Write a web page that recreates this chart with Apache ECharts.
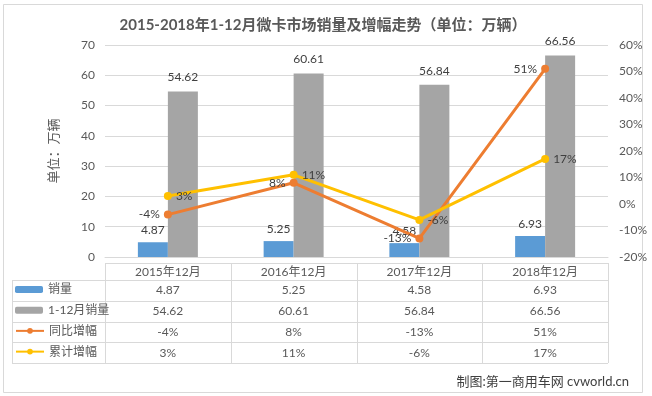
<!DOCTYPE html>
<html>
<head>
<meta charset="utf-8">
<script src="https://cdn.jsdelivr.net/npm/echarts@6/dist/echarts.min.js"></script>
<style>
  html, body { margin: 0; padding: 0; background: #fff; }
  #container { width: 652px; height: 396px; }
</style>
</head>
<body>
<div id="container"></div>
<script>
// data
var categories = ['2015年12月', '2016年12月', '2017年12月', '2018年12月'];
var monthSales = [4.87, 5.25, 4.58, 6.93];        // 销量
var ytdSales = [54.62, 60.61, 56.84, 66.56];      // 1-12月销量
var yoyGrowth = [-4, 8, -13, 51];                 // 同比增幅 (%)
var ytdGrowth = [3, 11, -6, 17];                  // 累计增幅 (%)
var seriesNames = ['销量', '1-12月销量', '同比增幅', '累计增幅'];

var FONT = 'Lato, "Noto Sans CJK SC", sans-serif';
var TXT = '#595959';
var LINE = '#D9D9D9';

// layout of the plot + data table
var gridLeft = 105, gridRight = 608, gridTop = 45, axisY = 257;
var headTop = 263, headBottom = 280, tableBottom = 363, tableLeft = 12;
var rowH = (tableBottom - headBottom) / 4;

var chart = echarts.init(document.getElementById('container'));

function rowCenter(i) { return headBottom + rowH * (i + 0.5); }

var legends = seriesNames.map(function (n, i) {
    return {
        data: [n],
        left: 15,
        top: rowCenter(i) - 7,
        padding: 0,
        itemWidth: 28,
        itemHeight: 7,
        itemGap: 4,
        selectedMode: false,
        textStyle: { color: TXT, fontSize: 12, fontFamily: FONT }
    };
});

chart.setOption({
    backgroundColor: '#fff',
    animation: false,
    title: {
        text: '2015-2018年1-12月微卡市场销量及增幅走势（单位：万辆）',
        left: 318,
        textAlign: 'center',
        top: 13,
        textStyle: { color: TXT, fontSize: 15, fontWeight: 'bold', fontFamily: FONT }
    },
    legend: legends,
    grid: { left: gridLeft, right: 652 - gridRight, top: gridTop, bottom: 396 - axisY },
    xAxis: {
        type: 'category',
        data: categories,
        axisLine: { lineStyle: { color: LINE } },
        axisTick: { show: false },
        axisLabel: { color: TXT, fontSize: 12, fontFamily: FONT, margin: 9 }
    },
    yAxis: [{
        type: 'value',
        min: 0, max: 70, interval: 10,
        name: '单位：万辆',
        nameLocation: 'middle',
        nameRotate: 90,
        nameGap: 45,
        nameTextStyle: { color: TXT, fontSize: 13, fontFamily: FONT },
        axisLabel: { color: TXT, fontSize: 12, fontFamily: FONT, margin: 10 },
        splitLine: { lineStyle: { color: LINE } }
    }, {
        type: 'value',
        min: -20, max: 60, interval: 10,
        axisLabel: { color: TXT, fontSize: 12, fontFamily: FONT, margin: 11, formatter: '{value}%' },
        splitLine: { show: false }
    }],
    series: [{
        name: seriesNames[0],
        type: 'bar',
        data: monthSales,
        barWidth: 30,
        barGap: '0%',
        itemStyle: { color: '#5B9BD5' },
        label: { show: true, position: 'top', color: '#404040', fontSize: 12, fontFamily: FONT, distance: 6 }
    }, {
        name: seriesNames[1],
        type: 'bar',
        data: ytdSales,
        barWidth: 30,
        barGap: '0%',
        itemStyle: { color: '#A5A5A5' },
        label: { show: true, position: 'top', color: '#404040', fontSize: 12, fontFamily: FONT, distance: 8 }
    }, {
        name: seriesNames[2],
        type: 'line',
        yAxisIndex: 1,
        data: yoyGrowth,
        symbol: 'circle',
        symbolSize: 8,
        lineStyle: { width: 3, color: '#ED7D31' },
        itemStyle: { color: '#ED7D31' },
        label: { show: true, position: 'left', distance: 4, color: '#404040', fontSize: 12, fontFamily: FONT, formatter: '{c}%' }
    }, {
        name: seriesNames[3],
        type: 'line',
        yAxisIndex: 1,
        data: ytdGrowth,
        symbol: 'circle',
        symbolSize: 8,
        lineStyle: { width: 3, color: '#FFC000' },
        itemStyle: { color: '#FFC000' },
        label: { show: true, position: 'right', distance: 4, color: '#404040', fontSize: 12, fontFamily: FONT, formatter: '{c}%' }
    }]
});

// data table under the plot, built from the same arrays
var g = [];
function hline(x1, x2, y) {
    g.push({ type: 'line', silent: true, shape: { x1: x1, y1: y, x2: x2, y2: y }, style: { stroke: LINE, lineWidth: 1 } });
}
function vline(x, y1, y2) {
    g.push({ type: 'line', silent: true, shape: { x1: x, y1: y1, x2: x, y2: y2 }, style: { stroke: LINE, lineWidth: 1 } });
}

// chart frame
g.push({ type: 'rect', silent: true, shape: { x: 3.5, y: 4.5, width: 639, height: 388 }, style: { fill: null, stroke: LINE, lineWidth: 1 } });

hline(gridLeft, gridRight, headTop + 0.5);
for (var r = 0; r <= 4; r++) hline(tableLeft, gridRight, Math.round(headBottom + rowH * r) + 0.5);
vline(tableLeft + 0.5, headBottom, tableBottom);
for (var c = 0; c <= categories.length; c++) {
    var xc = gridLeft + (gridRight - gridLeft) * c / categories.length;
    vline(Math.round(xc) + 0.5, headTop, tableBottom);
}

var rows = [
    monthSales.map(function (v) { return v.toFixed(2); }),
    ytdSales.map(function (v) { return v.toFixed(2); }),
    yoyGrowth.map(function (v) { return v + '%'; }),
    ytdGrowth.map(function (v) { return v + '%'; })
];
rows.forEach(function (vals, ri) {
    vals.forEach(function (txt, ci) {
        var px = chart.convertToPixel({ xAxisIndex: 0 }, categories[ci]);
        g.push({
            type: 'text', silent: true,
            x: px, y: rowCenter(ri),
            style: { text: txt, fill: TXT, font: '12px ' + FONT, align: 'center', verticalAlign: 'middle' }
        });
    });
});

g.push({
    type: 'text', silent: true,
    x: 629, y: 382,
    style: { text: '制图:第一商用车网 cvworld.cn', fill: '#404040', font: '13px ' + FONT, align: 'right', verticalAlign: 'middle' }
});

chart.setOption({ graphic: g });
</script>
</body>
</html>
